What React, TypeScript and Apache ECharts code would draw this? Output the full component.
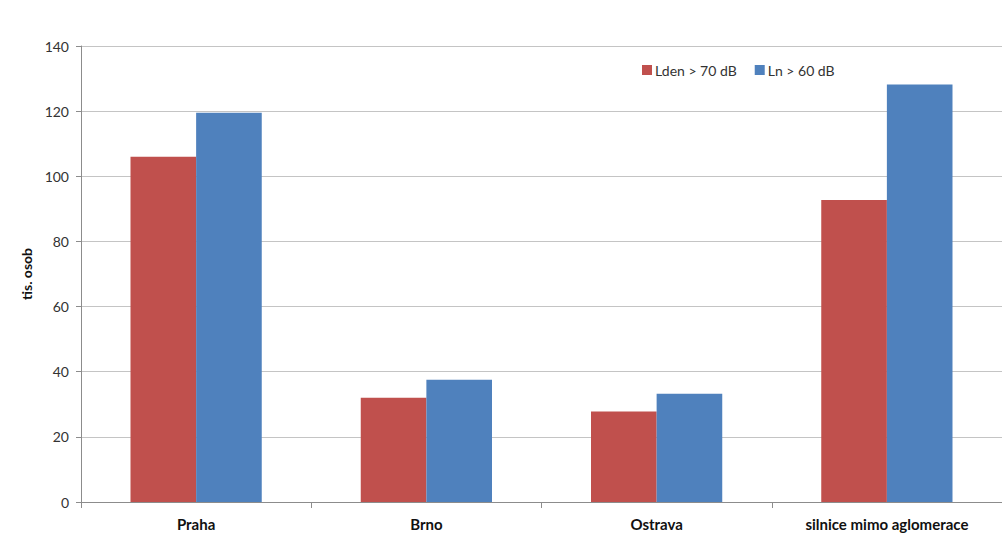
import React, { useEffect, useRef } from "react";
import * as echarts from "echarts";

const categories = ["Praha", "Brno", "Ostrava", "silnice mimo aglomerace"];
const lden = [106, 32, 27.8, 92.7];
const ln = [119.5, 37.5, 33.2, 128.2];
const seriesNames = ["Lden > 70 dB", "Ln > 60 dB"];

const FONT = "Lato, 'Open Sans', sans-serif";

export default function App() {
  const ref = useRef<HTMLDivElement>(null);
  useEffect(() => {
    document.body.style.margin = "0";
    const chart = echarts.init(ref.current!, null, { renderer: "svg" });
    chart.setOption({
      animation: false,
      backgroundColor: "#ffffff",
      textStyle: { fontFamily: FONT },
      legend: {
        data: seriesNames,
        left: 637,
        top: 58,
        itemWidth: 10,
        itemHeight: 10,
        itemGap: 18,
        icon: "rect",
        textStyle: { fontSize: 14, color: "#333", fontFamily: FONT, padding: [0, 0, 0, -2] },
      },
      grid: { left: 81, right: -1, top: 46, bottom: 36 },
      xAxis: {
        type: "category",
        data: categories,
        axisLine: { lineStyle: { color: "#8c8c8c", width: 1 } },
        axisTick: { show: true, alignWithLabel: false, length: 6, lineStyle: { color: "#8c8c8c" } },
        axisLabel: { fontSize: 15, fontWeight: "bold", color: "#111", margin: 14, fontFamily: FONT },
      },
      yAxis: {
        type: "value",
        min: 0,
        max: 140,
        interval: 20,
        name: "tis. osob",
        nameLocation: "middle",
        nameGap: 48,
        nameTextStyle: { fontSize: 14, fontWeight: "bold", color: "#111", fontFamily: FONT },
        axisLine: { show: true, lineStyle: { color: "#8c8c8c" } },
        axisTick: { show: true, length: 5, lineStyle: { color: "#8c8c8c" } },
        axisLabel: { fontSize: 14, color: "#333", margin: 12, fontFamily: FONT },
        splitLine: { show: true, lineStyle: { color: "#c4c4c4", width: 1 } },
      },
      series: [
        {
          name: seriesNames[0],
          type: "bar",
          data: lden,
          itemStyle: { color: "#C0504D" },
          barGap: "0%",
          barCategoryGap: "43%",
        },
        {
          name: seriesNames[1],
          type: "bar",
          data: ln,
          itemStyle: { color: "#4F81BD" },
          barGap: "0%",
          barCategoryGap: "43%",
        },
      ],
    });
    return () => chart.dispose();
  }, []);
  return <div ref={ref} style={{ width: 1002, height: 538 }} />;
}
